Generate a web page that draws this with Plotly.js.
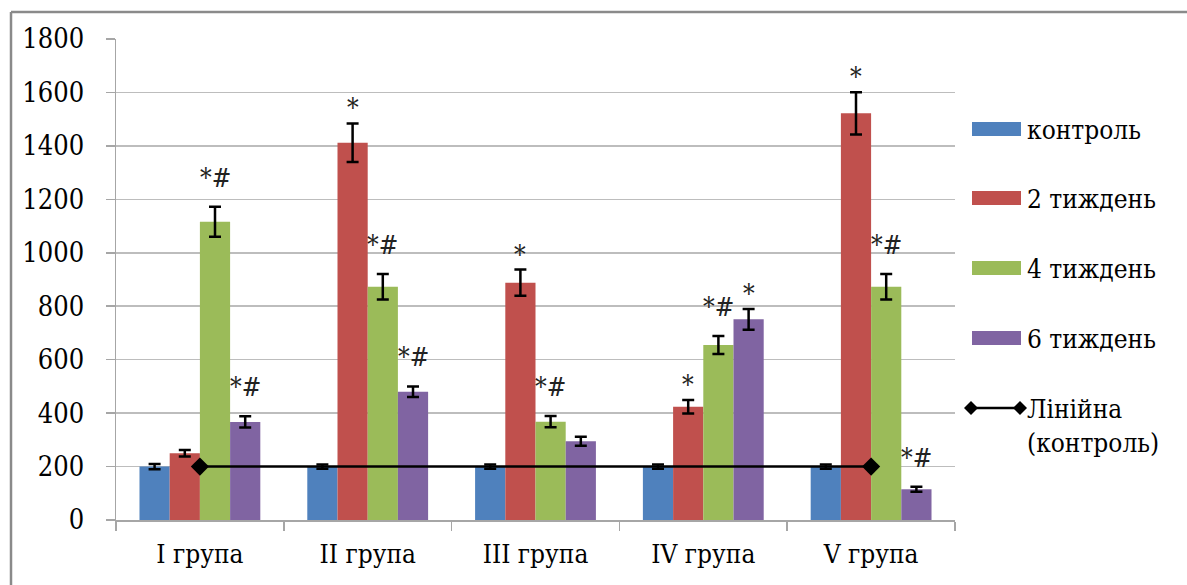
<!DOCTYPE html>
<html>
<head>
<meta charset="utf-8">
<script src="https://cdn.plot.ly/plotly-3.0.1.min.js"></script>
<style>
html,body{margin:0;padding:0;background:#fff;}
#chart{width:1187px;height:585px;}
#chart text{font-stretch:condensed !important;}
</style>
</head>
<body>
<div id="chart"></div>
<script>
// ---- data ----
const categories = ["I група", "II група", "III група", "IV група", "V група"];
const seriesNames = ["контроль", "2 тиждень", "4 тиждень", "6 тиждень"];
const control   = [200, 200, 200, 200, 200];
const week2     = [250, 1412, 888, 424, 1522];
const week4     = [1116, 873, 368, 655, 873];
const week6     = [367, 480, 295, 751, 115];
const controlErr = [10, 8, 8, 8, 8];
const week2Err  = [12, 72, 49, 25, 79];
const week4Err  = [56, 48, 21, 34, 48];
const week6Err  = [21, 20, 17, 39, 9];
const controlMarks = ["", "", "", "", ""];
const week2Marks = ["", "*", "*", "*", "*"];
const week4Marks = ["*#", "*#", "*#", "*#", "*#"];
const week6Marks = ["*#", "*#", "", "*", "*#"];
const trendName = "Лінійна (контроль)";
const trendCategories = ["I група", "V група"];
const trendValues = [200, 200];
const yTicks = [0, 200, 400, 600, 800, 1000, 1200, 1400, 1600, 1800];

// ---- styles ----
const FONT = "'DejaVu Serif Condensed', 'DejaVu Serif', serif";
const colors = ["#4F81BD", "#C0504D", "#9BBB59", "#8064A2"];
const values = [control, week2, week4, week6];
const errs = [controlErr, week2Err, week4Err, week6Err];
const marks = [controlMarks, week2Marks, week4Marks, week6Marks];

const traces = values.map((v, k) => ({
  type: "bar", name: seriesNames[k], x: categories, y: v,
  marker: {color: colors[k], line: {width: 0}},
  error_y: {type: "data", array: errs[k], visible: true, color: "#000", thickness: 2.5, width: 6},
  showlegend: false, hoverinfo: "x+y"
}));
traces.push({
  type: "scatter", mode: "lines+markers", name: trendName,
  x: trendCategories, y: trendValues,
  line: {color: "#000", width: 2.5},
  marker: {symbol: "diamond", size: 14, color: "#000"},
  showlegend: false
});

// plot area geometry (pixels)
const L = 116, R = 955, T = 39, B = 520, W = 1187, H = 585;
const px = x => (x - L) / (R - L);
const py = y => (B - y) / (B - T);

const annotations = [];
const barW = 0.18;
marks.forEach((mk, k) => {
  mk.forEach((t, i) => {
    if (!t) return;
    annotations.push({
      x: i + (k - 1.5) * barW, y: values[k][i] + errs[k][i], xref: "x", yref: "y",
      text: t, showarrow: false, yanchor: "middle", yshift: t === "*" ? 15 : 29,
      font: {family: FONT, size: 26, color: "#222"}
    });
  });
});

// manual legend
const shapes = [];
const legendRows = [129, 198, 268, 338];
seriesNames.forEach((n, k) => {
  shapes.push({type: "rect", xref: "paper", yref: "paper",
    x0: px(972), x1: px(1021), y0: py(legendRows[k] - 7), y1: py(legendRows[k] + 7),
    fillcolor: colors[k], line: {width: 0}});
  annotations.push({xref: "paper", yref: "paper", x: px(1025), y: py(legendRows[k] + 1),
    xanchor: "left", yanchor: "middle", text: n, showarrow: false,
    font: {family: FONT, size: 26, color: "#000"}});
});
const lineRow = 408;
shapes.push({type: "line", xref: "paper", yref: "paper", x0: px(971), x1: px(1020),
  y0: py(lineRow), y1: py(lineRow), line: {color: "#000", width: 2.5}});
[971, 1020].forEach(cx => {
  shapes.push({type: "path", xref: "paper", yref: "paper", xsizemode: "pixel", ysizemode: "pixel",
    xanchor: px(cx), yanchor: py(lineRow), path: "M-7,0L0,7L7,0L0,-7Z",
    fillcolor: "#000", line: {width: 0}});
});
annotations.push({xref: "paper", yref: "paper", x: px(1025), y: py(426),
  xanchor: "left", yanchor: "middle", align: "left",
  text: "Лінійна<br>(контроль)", showarrow: false,
  font: {family: FONT, size: 26, color: "#000"}});

// outer frame (top and left edges)
shapes.push({type: "line", xref: "paper", yref: "paper", x0: px(11), x1: px(1190),
  y0: py(12), y1: py(12), line: {color: "#8a8a8a", width: 2.5}});
shapes.push({type: "line", xref: "paper", yref: "paper", x0: px(11), x1: px(11),
  y0: py(12), y1: py(590), line: {color: "#8a8a8a", width: 2.5}});

const layout = {
  width: W, height: H,
  margin: {l: L, r: W - R, t: T, b: H - B, pad: 0},
  paper_bgcolor: "#fff", plot_bgcolor: "#fff",
  barmode: "group", bargap: 0.28, bargroupgap: 0,
  font: {family: FONT, size: 26, color: "#000"},
  xaxis: {
    type: "category", showgrid: false, showline: true, linecolor: "#a6a6a6", linewidth: 1.5,
    ticks: "outside", tickson: "boundaries", ticklen: 9, tickcolor: "#a6a6a6", tickwidth: 1.5,
    ticklabelstandoff: 10, tickfont: {family: FONT, size: 26, color: "#000"}, zeroline: false
  },
  yaxis: {
    range: [0, 1800], tickvals: yTicks, ticktext: yTicks.map(String),
    showgrid: true, gridcolor: "#bdbdbd", gridwidth: 1.5,
    showline: true, linecolor: "#a6a6a6", linewidth: 1.5,
    ticks: "outside", ticklen: 9, tickcolor: "#a6a6a6", tickwidth: 1.5,
    ticklabelstandoff: 16, tickfont: {family: FONT, size: 27, color: "#000"},
    zeroline: false
  },
  showlegend: false,
  annotations: annotations, shapes: shapes
};

Plotly.newPlot("chart", traces, layout, {displayModeBar: false, staticPlot: true});
</script>
</body>
</html>
